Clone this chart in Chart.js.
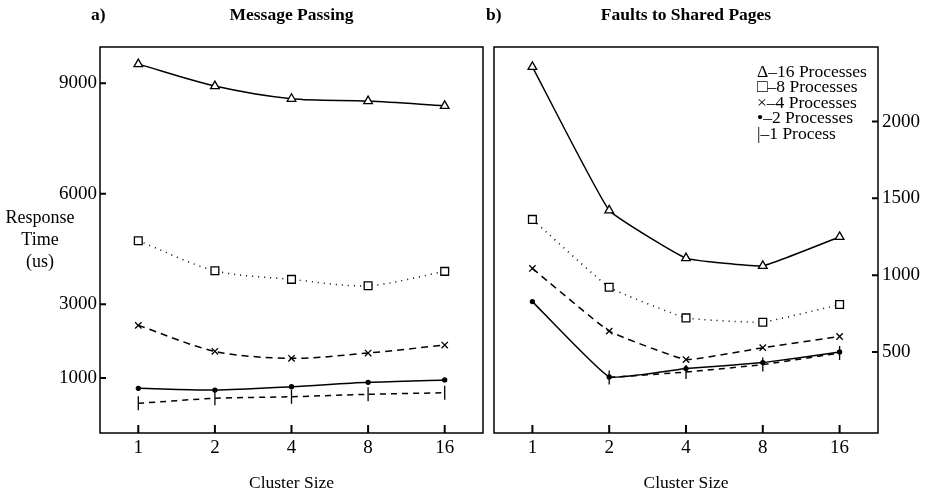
<!DOCTYPE html>
<html>
<head>
<meta charset="utf-8">
<script src="https://cdn.jsdelivr.net/npm/chart.js@4/dist/chart.umd.min.js"></script>
<style>
  body { margin: 0; background: #fff; }
  #wrap { position: relative; width: 926px; height: 496px; font-family: "Liberation Serif", serif; }
  canvas { position: absolute; top: 0; }
  .lbl { position: absolute; color: #000; }
</style>
</head>
<body>
<div id="wrap">
  <canvas id="msgChart" width="490" height="496" style="left:0"></canvas>
  <canvas id="faultChart" width="436" height="496" style="left:490px"></canvas>
  <div class="lbl" style="left:91px; top:4px; font-weight:bold; font-size:17.5px;">a)</div>
  <div class="lbl" style="left:486px; top:4px; font-weight:bold; font-size:17.5px;">b)</div>
  <div class="lbl" style="left:0; width:80px; top:206px; text-align:center; font-size:18px; line-height:22px;">Response<br>Time<br>(us)</div>
</div>
<script>
const clusterSizes = ['1', '2', '4', '8', '16'];
const seriesNames = ['16 Processes', '8 Processes', '4 Processes', '2 Processes', '1 Process'];

// a) Message Passing, response time (us)
const msg16 = [9516, 8920, 8575, 8512, 8385];
const msg8 = [4724, 3911, 3677, 3504, 3894];
const msg4 = [2430, 1725, 1535, 1679, 1896];
const msg2 = [721, 675, 765, 884, 949];
const msg1 = [315, 450, 494, 559, 602];
const msgTicks = [1000, 3000, 6000, 9000];

// b) Faults to Shared Pages, response time (us)
const flt16 = [2356, 1422, 1111, 1061, 1249];
const flt8 = [1363, 921, 722, 694, 809];
const flt4 = [1044, 636, 451, 528, 601];
const flt2 = [828, 338, 392, 431, 500];
const flt1 = [null, 334, 370, 418, 493];
const fltTicks = [500, 1000, 1500, 2000];

const legendMarks = ['Δ', '□', '×', '•', '|'];

const serif = 'Liberation Serif';

function makeSets(vals, tension) {
    const styles = [
        { pointStyle: 'triangle', pointRadius: 5, borderDash: [] },
        { pointStyle: 'rect', pointRadius: 5.5, borderDash: [1, 5] },
        { pointStyle: 'crossRot', pointRadius: 4.5, borderDash: [7, 5] },
        { pointStyle: 'circle', pointRadius: 2, borderDash: [] },
        { pointStyle: 'line', pointRadius: 7, pointRotation: 90, borderDash: [6, 5] }
    ];
    return vals.map((data, i) => Object.assign({
        label: seriesNames[i],
        data: data,
        borderColor: '#000',
        backgroundColor: i === 3 ? '#000' : '#fff',
        pointBorderColor: '#000',
        borderWidth: 1.5,
        pointBorderWidth: 1.3,
        tension: tension,
        spanGaps: false
    }, styles[i]));
}

// box round the plot, with inward tick marks at the scales' ticks
const framePlugin = {
    id: 'frame',
    afterDraw(chart) {
        const a = chart.chartArea, c = chart.ctx;
        const xs = chart.scales.x, ys = chart.scales.y;
        c.save();
        c.strokeStyle = '#000';
        c.setLineDash([]);
        c.lineWidth = 2;
        c.beginPath();
        clusterSizes.forEach((lab, i) => {
            const px = xs.getPixelForValue(i);
            c.moveTo(px, a.bottom);
            c.lineTo(px, a.bottom - 8);
        });
        const yEdge = ys.position === 'left' ? a.left : a.right;
        const dir = ys.position === 'left' ? 1 : -1;
        const yt = ys.position === 'left' ? msgTicks : fltTicks;
        yt.forEach(v => {
            const py = ys.getPixelForValue(v);
            c.moveTo(yEdge, py);
            c.lineTo(yEdge + dir * 6, py);
        });
        c.stroke();
        c.lineWidth = 1.5;
        c.strokeRect(a.left, a.top, a.right - a.left, a.bottom - a.top);
        c.restore();
    }
};

const legendPlugin = {
    id: 'textLegend',
    afterDraw(chart) {
        const c = chart.ctx;
        c.save();
        c.fillStyle = '#000';
        c.font = '17.5px "' + serif + '"';
        c.textBaseline = 'middle';
        seriesNames.forEach((name, i) => {
            c.fillText(legendMarks[i] + '–' + name, 267, 72 + i * 15.5);
        });
        c.restore();
    }
};

function makeOptions(title, yPos, yMin, yMax, yTicks, pad, yWidth) {
    return {
        responsive: false,
        animation: false,
        layout: { padding: pad, autoPadding: false },
        plugins: {
            legend: { display: false },
            tooltip: { enabled: false },
            title: {
                display: true, text: title, fullSize: false, color: '#000',
                font: { family: serif, size: 17.5, weight: 'bold' },
                padding: { top: 4.5, bottom: 21.5 }
            }
        },
        scales: {
            x: {
                type: 'category',
                offset: true,
                border: { display: false },
                grid: { display: false, drawTicks: false },
                ticks: { color: '#000', font: { family: serif, size: 19 }, padding: 4, maxRotation: 0 },
                title: { display: true, text: 'Cluster Size', color: '#000', font: { family: serif, size: 17.5 }, padding: { top: 0, bottom: 2 } },
                afterFit(scale) { scale.height = 63; }
            },
            y: {
                position: yPos,
                min: yMin,
                max: yMax,
                border: { display: false },
                grid: { display: false, drawTicks: false },
                ticks: { color: '#000', font: { family: serif, size: 19 }, padding: yPos === 'left' ? 3 : 4, callback: v => String(v) },
                afterBuildTicks(scale) { scale.ticks = yTicks.map(v => ({ value: v })); },
                afterFit(scale) { scale.width = yWidth; }
            }
        }
    };
}

new Chart(document.getElementById('msgChart'), {
    type: 'line',
    data: { labels: clusterSizes, datasets: makeSets([msg16, msg8, msg4, msg2, msg1], 0.3) },
    options: makeOptions('Message Passing', 'left', -490, 9980, msgTicks, { left: 0, right: 7, top: 0, bottom: 0 }, 100),
    plugins: [framePlugin]
});

new Chart(document.getElementById('faultChart'), {
    type: 'line',
    data: { labels: clusterSizes, datasets: makeSets([flt16, flt8, flt4, flt2, flt1], 0.1) },
    options: makeOptions('Faults to Shared Pages', 'right', -27, 2485, fltTicks, { left: 4, right: 0, top: 0, bottom: 0 }, 48),
    plugins: [framePlugin, legendPlugin]
});
</script>
</body>
</html>
